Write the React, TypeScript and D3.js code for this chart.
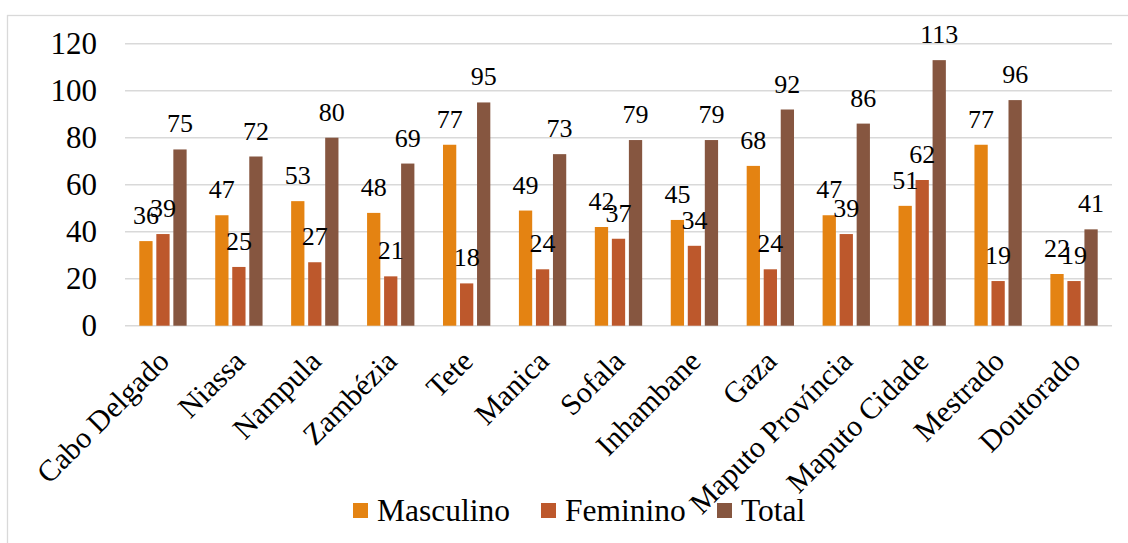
import { useEffect, useRef } from "react";
import * as d3 from "d3";

const categories = [
  "Cabo Delgado",
  "Niassa",
  "Nampula",
  "Zambézia",
  "Tete",
  "Manica",
  "Sofala",
  "Inhambane",
  "Gaza",
  "Maputo Província",
  "Maputo Cidade",
  "Mestrado",
  "Doutorado",
];
const masculino = [36, 47, 53, 48, 77, 49, 42, 45, 68, 47, 51, 77, 22];
const feminino = [39, 25, 27, 21, 18, 24, 37, 34, 24, 39, 62, 19, 19];
const total = [75, 72, 80, 69, 95, 73, 79, 79, 92, 86, 113, 96, 41];
const seriesNames = ["Masculino", "Feminino", "Total"];
const seriesColors = ["#E48312", "#BD582C", "#865640"];
const yTicks = [0, 20, 40, 60, 80, 100, 120];

const FONT = "Liberation Serif";

export default function App() {
  const svgRef = useRef<SVGSVGElement>(null);

  useEffect(() => {
    if (!svgRef.current) return;
    const width = 1128;
    const height = 543;
    const svg = d3.select(svgRef.current);
    svg.selectAll("*").remove();
    svg.attr("width", width).attr("height", height).attr("font-family", FONT);

    // chart border
    svg
      .append("rect")
      .attr("x", 7.5)
      .attr("y", 15.5)
      .attr("width", 1140)
      .attr("height", 560)
      .attr("fill", "#fff")
      .attr("stroke", "#D9D9D9")
      .attr("stroke-width", 1.3);

    const x0 = d3.scaleBand().domain(categories).range([125, 1112]);
    const x1 = d3
      .scaleBand()
      .domain(seriesNames)
      .range([0, x0.bandwidth()])
      .paddingInner(0.22)
      .paddingOuter(0.84);
    const y = d3.scaleLinear().domain([0, 120]).range([325.7, 43.7]);

    // gridlines
    svg
      .append("g")
      .selectAll("line")
      .data(yTicks)
      .join("line")
      .attr("x1", 125)
      .attr("x2", 1112)
      .attr("y1", (d) => y(d))
      .attr("y2", (d) => y(d))
      .attr("stroke", "#D9D9D9")
      .attr("stroke-width", 1.5);

    // y tick labels
    svg
      .append("g")
      .selectAll("text")
      .data(yTicks)
      .join("text")
      .attr("x", 97)
      .attr("y", (d) => y(d) + 10.5)
      .attr("text-anchor", "end")
      .attr("font-size", 31)
      .attr("fill", "#000")
      .text((d) => d);

    const rows = categories.map((c, i) => ({
      category: c,
      values: [masculino[i], feminino[i], total[i]],
    }));

    const groups = svg
      .append("g")
      .selectAll("g.group")
      .data(rows)
      .join("g")
      .attr("class", "group")
      .attr("transform", (d) => `translate(${x0(d.category)},0)`);

    groups
      .selectAll("rect")
      .data((d) => d.values.map((v, k) => ({ v, k })))
      .join("rect")
      .attr("x", (d) => x1(seriesNames[d.k]) ?? 0)
      .attr("y", (d) => y(d.v))
      .attr("width", x1.bandwidth())
      .attr("height", (d) => y(0) - y(d.v))
      .attr("fill", (d) => seriesColors[d.k]);

    // data labels (overlapping as in the original)
    groups
      .selectAll("text")
      .data((d) => d.values.map((v, k) => ({ v, k })))
      .join("text")
      .attr("x", (d) => (x1(seriesNames[d.k]) ?? 0) + x1.bandwidth() / 2)
      .attr("y", (d) => y(d.v) - 17)
      .attr("text-anchor", "middle")
      .attr("font-size", 26)
      .attr("fill", "#000")
      .text((d) => d.v);

    // category labels
    svg
      .append("g")
      .selectAll("text")
      .data(categories)
      .join("text")
      .attr(
        "transform",
        (d) => `translate(${(x0(d) ?? 0) + x0.bandwidth() / 2 + 8},363) rotate(-45)`
      )
      .attr("text-anchor", "end")
      .attr("font-size", 30)
      .attr("fill", "#000")
      .text((d) => d);

    // legend
    const legendX = [353, 541, 717];
    const legend = svg
      .append("g")
      .selectAll("g")
      .data(seriesNames)
      .join("g")
      .attr("transform", (_, i) => `translate(${legendX[i]},0)`);
    legend
      .append("rect")
      .attr("x", 0)
      .attr("y", 503)
      .attr("width", 15)
      .attr("height", 15)
      .attr("fill", (_, i) => seriesColors[i]);
    legend
      .append("text")
      .attr("x", 24)
      .attr("y", 520.5)
      .attr("font-size", 31.5)
      .attr("fill", "#000")
      .text((d) => d);
  }, []);

  return (
    <div style={{ position: "absolute", left: 0, top: 0 }}>
      <svg ref={svgRef} style={{ display: "block" }} />
    </div>
  );
}
